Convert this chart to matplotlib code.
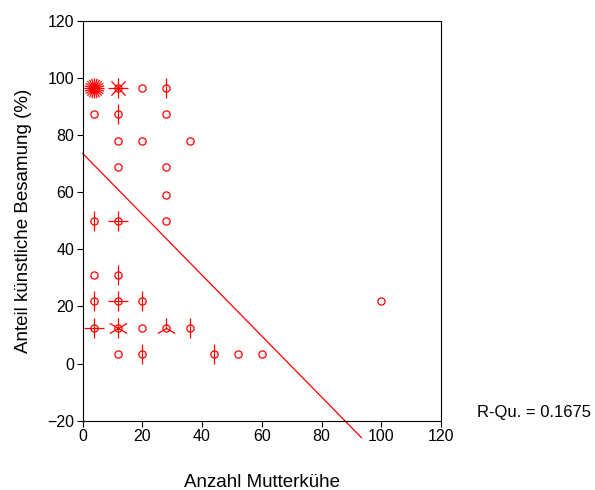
import numpy as np
import matplotlib
matplotlib.use("Agg")
import matplotlib.pyplot as plt
from matplotlib.path import Path

plt.rcParams['font.family'] = ['Liberation Sans', 'DejaVu Sans']

# Sunflower plot data: x (Anzahl Mutterkühe), y (Anteil künstliche Besamung %), count
x_vals = [4, 12, 20, 28,
          4, 12, 28,
          12, 20, 36,
          12, 28,
          28,
          4, 12, 28,
          4, 12,
          4, 12, 20, 100,
          4, 12, 20, 28, 36,
          12, 20, 44, 52, 60]
y_vals = [96.5, 96.5, 96.5, 96.5,
          87.5, 87.5, 87.5,
          78, 78, 78,
          68.75, 68.75,
          59,
          50, 50, 50,
          31, 31,
          22, 22, 22, 22,
          12.5, 12.5, 12.5, 12.5, 12.5,
          3.3, 3.3, 3.3, 3.3, 3.3]
counts = [24, 8, 1, 2,
          1, 2, 1,
          1, 1, 1,
          1, 1,
          1,
          2, 4, 1,
          1, 2,
          2, 4, 2, 1,
          4, 6, 1, 3, 2,
          1, 2, 2, 1, 1]

# fit line
fit_intercept = 73.6
fit_slope = -1.066
fit_x = [0, 93.4]
r_squared = "R-Qu. = 0.1675"

xticks = [0, 20, 40, 60, 80, 100, 120]
yticks = [-20, 0, 20, 40, 60, 80, 100, 120]

W, H = 595, 490
fig = plt.figure(figsize=(W / 100, H / 100), dpi=100)
ax = fig.add_axes([82.5 / W, (H - 420.7) / H, 358.5 / W, 400 / H])

red = '#ff0000'


def petal_marker(n):
    verts, codes = [], []
    for k in range(n):
        a = np.deg2rad(90 + 360.0 * k / n)
        verts += [(0, 0), (np.cos(a), np.sin(a))]
        codes += [Path.MOVETO, Path.LINETO]
    return Path(verts, codes)


for x, y, c in zip(x_vals, y_vals, counts):
    ax.plot(x, y, marker='o', ms=5.2, mfc='none', mec=red, mew=0.9,
            linestyle='none', clip_on=False)
    if c > 1:
        ax.plot(x, y, marker=petal_marker(c), ms=14.5, mec=red, mew=0.9,
                linestyle='none', clip_on=False)

fx = np.array(fit_x)
ax.plot(fx, fit_intercept + fit_slope * fx, color=red, lw=0.9, clip_on=False)

ax.set_xlim(0, 120)
ax.set_ylim(-20, 120)
ax.set_xticks(xticks)
ax.set_yticks(yticks)
ax.tick_params(direction='out', length=4, width=0.8, labelsize=11.5,
               colors='black', pad=2)
ax.tick_params(top=False, right=False)
for s in ax.spines.values():
    s.set_linewidth(0.8)

ax.set_xlabel('Anzahl Mutterkühe', fontsize=13.5, va='center')
ax.xaxis.set_label_coords(0.5, (420.7 - 482) / 400)
ax.set_ylabel('Anteil künstliche Besamung (%)', fontsize=13.5, va='center')
ax.yaxis.set_label_coords((23 - 82.5) / 358.5, 0.5)

fig.text(477 / W, (H - 412) / H, r_squared, fontsize=12, va='center', ha='left')

fig.savefig('out.png', dpi=100)
